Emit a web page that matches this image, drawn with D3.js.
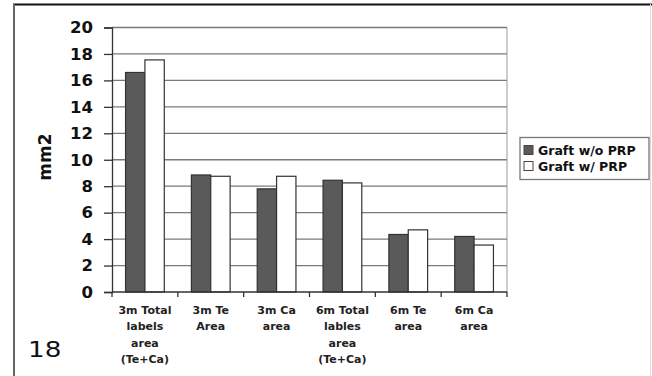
<!DOCTYPE html>
<html>
<head>
<meta charset="utf-8">
<script src="https://cdn.jsdelivr.net/npm/d3@7"></script>
<style>
  html, body { margin: 0; padding: 0; background: #fff; }
  svg { display: block; font-family: "DejaVu Sans", sans-serif; }
</style>
</head>
<body>
<svg id="chart" width="652" height="376"></svg>
<script>
// Category labels (each entry is a list of lines)
const categories = [
  ["3m Total", "labels", "area", "(Te+Ca)"],
  ["3m Te", "Area"],
  ["3m Ca", "area"],
  ["6m Total", "lables", "area", "(Te+Ca)"],
  ["6m Te", "area"],
  ["6m Ca", "area"]
];
const seriesNames = ["Graft w/o PRP", "Graft w/ PRP"];
const withoutPRP = [16.6, 8.85, 7.8, 8.45, 4.35, 4.2];
const withPRP    = [17.55, 8.75, 8.75, 8.25, 4.7, 3.55];
const yTicks = [0, 2, 4, 6, 8, 10, 12, 14, 16, 18, 20];
const yLabel = "mm2";
const panelNumber = "18";

const seriesColors = ["#5a5a5a", "#ffffff"];
const values = [withoutPRP, withPRP];
const boldFont = "DejaVu Sans, sans-serif";

const svg = d3.select("#chart");

// outer panel frame
svg.append("line").attr("x1", 13).attr("x2", 652).attr("y1", 4.5).attr("y2", 4.5)
  .attr("stroke", "#111").attr("stroke-width", 2);
svg.append("line").attr("x1", 14).attr("x2", 14).attr("y1", 4).attr("y2", 376)
  .attr("stroke", "#666").attr("stroke-width", 2);
svg.append("line").attr("x1", 650.5).attr("x2", 650.5).attr("y1", 4).attr("y2", 376)
  .attr("stroke", "#ddd").attr("stroke-width", 1);

const plot = { left: 112, right: 507, top: 27.5, bottom: 292 };

const x0 = d3.scaleBand()
  .domain(d3.range(categories.length))
  .range([plot.left, plot.right])
  .paddingInner(0).paddingOuter(0);

const x1 = d3.scaleBand()
  .domain(d3.range(seriesNames.length))
  .range([0, x0.bandwidth()])
  .paddingInner(0).paddingOuter(0.7);

const y = d3.scaleLinear().domain([0, 20]).range([plot.bottom, plot.top]);

// horizontal gridlines
svg.append("g").selectAll("line")
  .data(yTicks.filter(t => t > 0))
  .join("line")
  .attr("x1", plot.left).attr("x2", plot.right)
  .attr("y1", d => y(d)).attr("y2", d => y(d))
  .attr("stroke", "#7a7a7a").attr("stroke-width", 1.3);

// right edge of plot area
svg.append("line")
  .attr("x1", plot.right).attr("x2", plot.right)
  .attr("y1", plot.top).attr("y2", plot.bottom)
  .attr("stroke", "#9a9a9a").attr("stroke-width", 1);

// bars
const groups = svg.append("g").selectAll("g")
  .data(categories.map((c, i) => i))
  .join("g")
  .attr("transform", i => `translate(${x0(i)},0)`);

groups.selectAll("rect")
  .data(i => values.map((vals, s) => ({ s, v: vals[i] })))
  .join("rect")
  .attr("x", d => x1(d.s))
  .attr("width", x1.bandwidth())
  .attr("y", d => y(d.v))
  .attr("height", d => y(0) - y(d.v))
  .attr("fill", d => seriesColors[d.s])
  .attr("stroke", "#333")
  .attr("stroke-width", 1.2);

// y axis
const yAxis = svg.append("g")
  .attr("transform", `translate(${plot.left},0)`)
  .call(d3.axisLeft(y).tickValues(yTicks).tickSize(8).tickPadding(11).tickFormat(d3.format("d")));
yAxis.select(".domain").attr("stroke", "#333").attr("stroke-width", 1.3);
yAxis.selectAll(".tick line").attr("stroke", "#333").attr("stroke-width", 1.3);
yAxis.selectAll(".tick text")
  .attr("font-family", boldFont)
  .attr("font-size", 16.5).attr("font-weight", "bold").attr("fill", "#111");

// x axis (category boundaries ticks)
const xAxisG = svg.append("g");
xAxisG.append("line")
  .attr("x1", plot.left).attr("x2", plot.right)
  .attr("y1", plot.bottom).attr("y2", plot.bottom)
  .attr("stroke", "#333").attr("stroke-width", 1.3);
xAxisG.selectAll("line.tk")
  .data(d3.range(categories.length + 1))
  .join("line").attr("class", "tk")
  .attr("x1", i => i < categories.length ? x0(i) : plot.right)
  .attr("x2", i => i < categories.length ? x0(i) : plot.right)
  .attr("y1", plot.bottom).attr("y2", plot.bottom + 5)
  .attr("stroke", "#333").attr("stroke-width", 1.3);

// category labels
const catLabels = svg.append("g").selectAll("text")
  .data(categories)
  .join("text")
  .attr("text-anchor", "middle")
  .attr("font-family", boldFont)
  .attr("font-size", 11).attr("font-weight", "bold").attr("fill", "#222")
  .attr("transform", (d, i) => `translate(${x0(i) + x0.bandwidth() / 2},314)`);
catLabels.selectAll("tspan")
  .data(d => d)
  .join("tspan")
  .attr("x", 0)
  .attr("dy", (d, j) => j === 0 ? 0 : 16.3)
  .text(d => d);

// y label
svg.append("text")
  .attr("transform", "translate(51,157) rotate(-90)")
  .attr("text-anchor", "middle")
  .attr("font-family", boldFont)
  .attr("font-size", 17).attr("font-weight", "bold").attr("fill", "#111")
  .text(yLabel);

// legend
const legend = svg.append("g").attr("transform", "translate(520,137.5)");
legend.append("rect")
  .attr("width", 129).attr("height", 42)
  .attr("fill", "#fff").attr("stroke", "#777").attr("stroke-width", 1.3);
const items = legend.selectAll("g.item")
  .data(seriesNames)
  .join("g").attr("class", "item")
  .attr("transform", (d, i) => `translate(4,${8 + i * 16})`);
items.append("rect")
  .attr("width", 9).attr("height", 9)
  .attr("fill", (d, i) => seriesColors[i])
  .attr("stroke", "#444").attr("stroke-width", 1);
items.append("text")
  .attr("x", 14).attr("y", 9.5)
  .attr("font-family", boldFont)
  .attr("font-size", 12.5).attr("font-weight", "bold").attr("fill", "#111")
  .text(d => d);

// panel number
svg.append("text")
  .attr("transform", "translate(28,357) scale(1.25,1)")
  .attr("font-family", "DejaVu Sans, sans-serif")
  .attr("font-size", 21).attr("fill", "#111")
  .text(panelNumber);
</script>
</body>
</html>
